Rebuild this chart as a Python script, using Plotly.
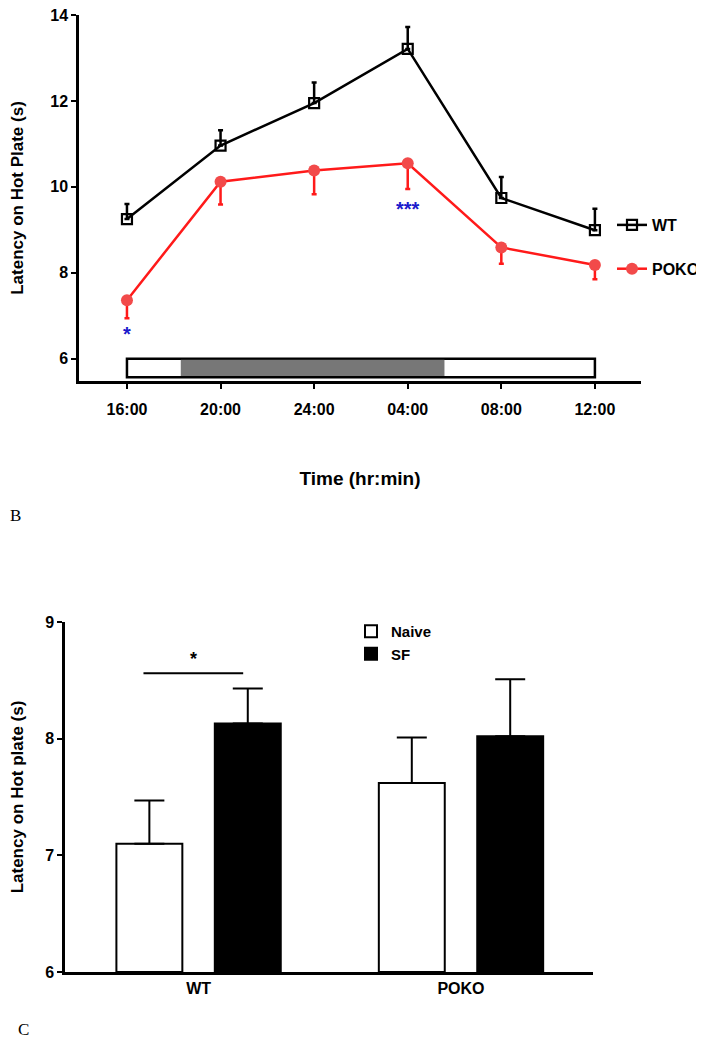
import plotly.graph_objects as go

# ---------- Panel B data ----------
time_labels = ["16:00", "20:00", "24:00", "04:00", "08:00", "12:00"]
time_hours = [0, 4, 8, 12, 16, 20]          # hours since 16:00
wt_mean = [9.25, 10.96, 11.95, 13.21, 9.74, 8.99]
wt_err_up = [0.35, 0.36, 0.48, 0.51, 0.49, 0.50]
poko_mean = [7.36, 10.12, 10.38, 10.55, 8.59, 8.18]
poko_err_down = [0.42, 0.53, 0.55, 0.60, 0.38, 0.33]
dark_start, dark_end = 2.3, 13.57           # dark phase (hours since 16:00)
sig_b = [(0, 6.57, "*"), (12, 9.48, "***")]

# ---------- Panel C data ----------
groups = ["WT", "POKO"]
naive_mean = [7.10, 7.62]
naive_err = [0.37, 0.39]
sf_mean = [8.13, 8.02]
sf_err = [0.30, 0.49]

# page has an 8px body margin; figure is sized to fill the window
OFF = 8
W, H = 704 - OFF, 1050 - OFF


def fx(p):
    return min(max((p - OFF) / W, 0), 1)


def fy(p):
    return min(max(1 - (p - OFF) / H, 0), 1)


FONT = "Liberation Sans, Arial, sans-serif"
RED = "#ff1a1a"
RED_M = "#f24a4a"
BOLD16 = dict(family=FONT, size=16, color="black", weight="bold")

fig = go.Figure()

# Panel B traces
fig.add_trace(go.Scatter(
    x=time_hours, y=wt_mean, mode="lines+markers", name="WT",
    line=dict(color="black", width=2.5),
    marker=dict(symbol="square-open", size=10, color="black", line=dict(width=2.2)),
    error_y=dict(type="data", symmetric=False, array=wt_err_up,
                 arrayminus=[0] * len(wt_err_up), color="black", thickness=2.5, width=2.5),
    xaxis="x", yaxis="y", legend="legend", legendgroup="wt"))
fig.add_trace(go.Scatter(
    x=time_hours, y=poko_mean, mode="lines+markers", name="POKO",
    line=dict(color=RED, width=2.5),
    marker=dict(symbol="circle", size=12, color=RED_M),
    error_y=dict(type="data", symmetric=False, array=[0] * len(poko_err_down),
                 arrayminus=poko_err_down, color=RED, thickness=2.5, width=2.5),
    xaxis="x", yaxis="y", legend="legend", legendgroup="poko"))

# Panel C traces
fig.add_trace(go.Bar(
    x=groups, y=[m - 6 for m in naive_mean], base=6, name="Naive",
    marker=dict(color="white", line=dict(color="black", width=2)),
    error_y=dict(type="data", symmetric=False, array=naive_err,
                 arrayminus=[0, 0], color="black", thickness=2, width=15),
    xaxis="x2", yaxis="y2", legend="legend2"))
fig.add_trace(go.Bar(
    x=groups, y=[m - 6 for m in sf_mean], base=6, name="SF",
    marker=dict(color="black", line=dict(color="black", width=2)),
    error_y=dict(type="data", symmetric=False, array=sf_err,
                 arrayminus=[0, 0], color="black", thickness=2, width=15),
    xaxis="x2", yaxis="y2", legend="legend2"))

shapes = [
    # light/dark bar
    dict(type="rect", xref="x", yref="y", x0=time_hours[0], x1=time_hours[-1],
         y0=5.57, y1=6.0, fillcolor="white", line=dict(color="black", width=2.5), layer="below"),
    dict(type="rect", xref="x", yref="y", x0=dark_start, x1=dark_end,
         y0=5.595, y1=5.975, fillcolor="#777777", line=dict(width=0), layer="below"),
    # significance line panel C
    dict(type="line", xref="x2", yref="y2", x0=-0.21, x1=0.17, y0=8.56, y1=8.56,
         line=dict(color="black", width=2)),
]

annotations = []
for xv, yv, txt in sig_b:
    annotations.append(dict(x=xv, y=yv, xref="x", yref="y", text=txt, showarrow=False,
                            font=dict(family=FONT, size=20, color="#1a1acc", weight="bold")))
annotations.append(dict(x=-0.02, y=8.68, xref="x2", yref="y2", text="*", showarrow=False,
                        font=dict(family=FONT, size=18, color="black", weight="bold")))
annotations.append(dict(x=fx(4), y=fy(515), xref="paper", yref="paper", text="B",
                        showarrow=False, xanchor="left",
                        font=dict(family="Liberation Serif, Times New Roman, serif", size=17, color="black")))
annotations.append(dict(x=fx(16), y=fy(1041), xref="paper", yref="paper", text="C",
                        showarrow=False, xanchor="left",
                        font=dict(family="Liberation Serif, Times New Roman, serif", size=17, color="black")))

axis_common = dict(showline=True, linecolor="black", linewidth=2.5, showgrid=False,
                   zeroline=False, ticks="outside", tickcolor="black", tickwidth=2,
                   ticklen=5, tickfont=BOLD16, automargin=False, ticklabeloverflow="allow")

fig.update_layout(
    width=W, height=H,
    margin=dict(l=0, r=0, t=0, b=0, autoexpand=False),
    plot_bgcolor="white", paper_bgcolor="white",
    font=dict(family=FONT, color="black"),
    barmode="group", bargap=0.25, bargroupgap=0.33,
    xaxis=dict(axis_common, domain=[fx(79), fx(641)], anchor="y",
               range=[-2.05, 21.97], tickmode="array", tickvals=time_hours,
               ticktext=time_labels, ticklabelstandoff=7,
               title=dict(text="Time (hr:min)", standoff=55,
                          font=dict(family=FONT, size=19, weight="bold"))),
    yaxis=dict(axis_common, domain=[fy(381), fy(15)], anchor="x",
               range=[5.48, 14.0], tickvals=[6, 8, 10, 12, 14],
               title=dict(text="Latency on Hot Plate (s)", standoff=26,
                          font=dict(family=FONT, size=17, weight="bold"))),
    xaxis2=dict(axis_common, domain=[fx(65), fx(593)], anchor="y2",
                range=[-0.509, 1.503], ticks=""),
    yaxis2=dict(axis_common, domain=[fy(972), fy(622)], anchor="x2",
                range=[6, 9], tickvals=[6, 7, 8, 9],
                title=dict(text="Latency on Hot plate (s)", standoff=28,
                           font=dict(family=FONT, size=17, weight="bold"))),
    legend=dict(x=fx(612), xanchor="left", y=fy(208), yanchor="top",
                traceorder="grouped", tracegroupgap=20, bgcolor="rgba(0,0,0,0)",
                font=dict(family=FONT, size=16, color="black", weight="bold")),
    legend2=dict(x=fx(351), xanchor="left", y=fy(615), yanchor="top",
                 bgcolor="rgba(0,0,0,0)",
                 font=dict(family=FONT, size=15, color="black", weight="bold")),
    shapes=shapes,
    annotations=annotations,
)

fig.write_html("out.html")
